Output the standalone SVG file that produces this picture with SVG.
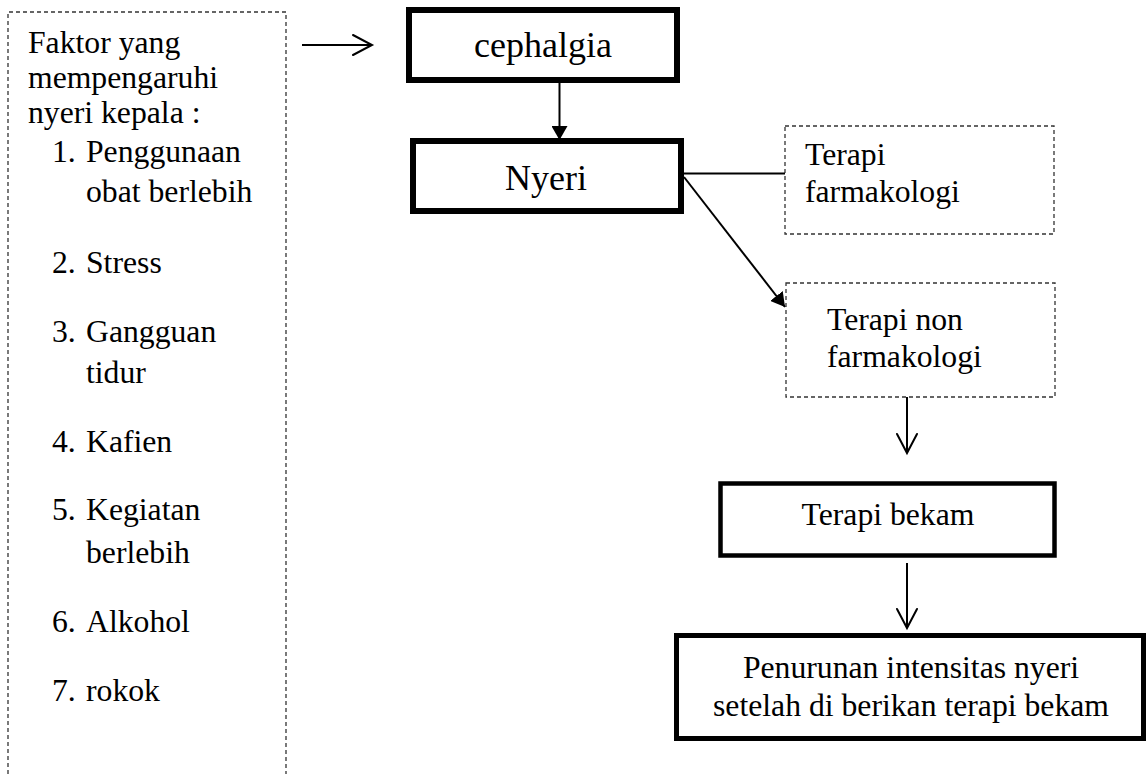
<svg xmlns="http://www.w3.org/2000/svg" width="1147" height="774" viewBox="0 0 1147 774">
<style>
text{font-family:'Liberation Serif','Times New Roman',Times,Tinos,'Noto Serif','DejaVu Serif',FreeSerif,serif;fill:#000;font-size:31.7px}
.big{font-size:36px}
.dash{fill:none;stroke:#333;stroke-width:1.3;stroke-dasharray:4 3}
.thick{fill:#fff;stroke:#000}
.conn{fill:none;stroke:#000;stroke-width:2}
.open{fill:none;stroke:#000;stroke-width:2;stroke-linecap:round;stroke-linejoin:miter}
</style>
<defs>
<marker id="tri" markerUnits="userSpaceOnUse" viewBox="0 0 14 16" refX="14" refY="8" markerWidth="14" markerHeight="16" orient="auto">
<path d="M0,0 L14,8 L0,16 Z" fill="#000"/>
</marker>
</defs>
<rect width="1147" height="774" fill="#fff"/>

<g id="faktor">
<path class="dash" d="M8,774 V12 H286 V774"/>
<text x="28" y="53">Faktor yang</text>
<text x="28" y="88">mempengaruhi</text>
<text x="28" y="123">nyeri kepala :</text>
<text x="52" y="162">1.</text><text x="86" y="162">Penggunaan</text>
<text x="86" y="202">obat berlebih</text>
<text x="52" y="273">2.</text><text x="86" y="273">Stress</text>
<text x="52" y="342">3.</text><text x="86" y="342">Gangguan</text>
<text x="86" y="383">tidur</text>
<text x="52" y="452">4.</text><text x="86" y="452">Kafien</text>
<text x="52" y="520">5.</text><text x="86" y="520">Kegiatan</text>
<text x="86" y="563">berlebih</text>
<text x="52" y="632">6.</text><text x="86" y="632">Alkohol</text>
<text x="52" y="701">7.</text><text x="86" y="701">rokok</text>
</g>

<g id="cephalgia">
<rect class="thick" x="409" y="10" width="268" height="70" stroke-width="6"/>
<text class="big" x="543" y="57" text-anchor="middle">cephalgia</text>
</g>

<g id="nyeri">
<rect class="thick" x="413" y="141" width="268" height="70" stroke-width="6"/>
<text class="big" x="546" y="190" text-anchor="middle">Nyeri</text>
</g>

<g id="farmakologi">
<rect class="dash" x="785" y="126" width="269" height="108"/>
<text x="805" y="165">Terapi</text>
<text x="805" y="202">farmakologi</text>
</g>

<g id="nonfarmakologi">
<rect class="dash" x="786" y="283" width="269" height="114"/>
<text x="827" y="330">Terapi non</text>
<text x="827" y="367">farmakologi</text>
</g>

<g id="bekam">
<rect class="thick" x="720.5" y="483.5" width="334" height="72" stroke-width="4.5"/>
<text x="888" y="525" text-anchor="middle">Terapi bekam</text>
</g>

<g id="penurunan">
<rect class="thick" x="676.5" y="635.5" width="467" height="103" stroke-width="5"/>
<text x="911" y="678" text-anchor="middle">Penurunan intensitas nyeri</text>
<text x="911" y="716" text-anchor="middle">setelah di berikan terapi bekam</text>
</g>

<g id="connectors">
<line class="conn" x1="302" y1="45" x2="371" y2="45"/>
<path class="open" d="M353,35 L372,45 L353,55"/>
<line class="conn" x1="559.5" y1="83" x2="559.5" y2="140" marker-end="url(#tri)"/>
<line class="conn" x1="684" y1="173.5" x2="785" y2="173.5"/>
<line class="conn" x1="684" y1="177" x2="785" y2="307" marker-end="url(#tri)"/>
<line class="conn" x1="907" y1="397" x2="907" y2="452"/>
<path class="open" d="M897,434 L907,453 L917,434"/>
<line class="conn" x1="907" y1="563" x2="907" y2="627"/>
<path class="open" d="M897,609 L907,628 L917,609"/>
</g>
</svg>
